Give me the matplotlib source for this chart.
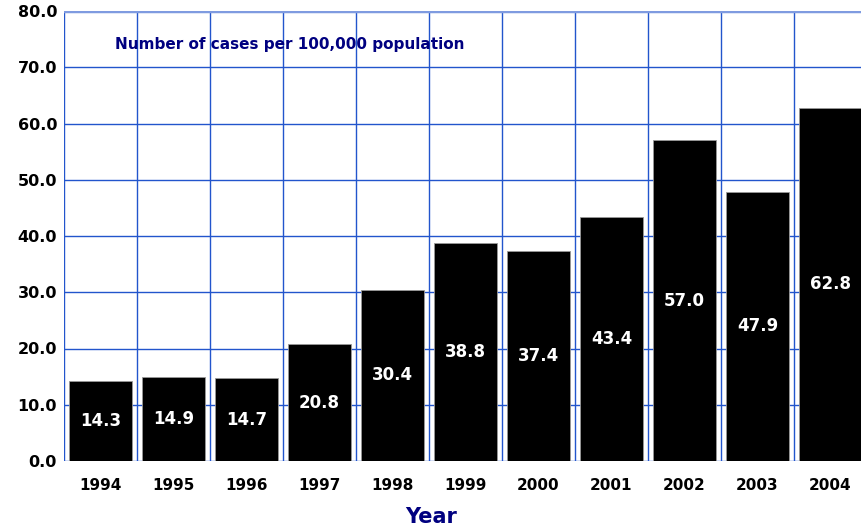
import matplotlib.pyplot as plt

years = ['1994', '1995', '1996', '1997', '1998', '1999', '2000', '2001', '2002', '2003', '2004']
rates = [14.3, 14.9, 14.7, 20.8, 30.4, 38.8, 37.4, 43.4, 57.0, 47.9, 62.8]
yticks = [0, 10, 20, 30, 40, 50, 60, 70, 80]

navy = '#000080'
grid_blue = '#2255cc'

plt.rcParams['font.family'] = ['DejaVu Sans']
plt.rcParams['font.weight'] = 'bold'

fig = plt.figure(figsize=(8.62, 5.31), dpi=100)
W, H = 862., 531.
ax = fig.add_axes([64/W, 70/H, 803/W, 450/H])

x = list(range(len(years)))
ax.bar(x, rates, width=0.85, color='black', edgecolor='#999999', linewidth=0.6, zorder=3)

for xi, v in zip(x, rates):
    ax.text(xi, v/2, '%.1f' % v, color='white', ha='center', va='center',
            fontsize=12, fontweight='bold', zorder=4)

ax.set_xlim(-0.5, len(years) - 0.5)
ax.set_ylim(0, 80)
ax.set_yticks(yticks)
ax.set_yticklabels(['%.1f' % t for t in yticks], fontsize=11.5, fontweight='bold')
ax.set_xticks(x)
ax.set_xticklabels(years, fontsize=11, fontweight='bold')
ax.tick_params(length=0, pad=12, axis='x')
ax.tick_params(length=0, pad=5, axis='y')

# grid lines on category boundaries and every 10 units
for b in range(len(years) + 1):
    ax.axvline(b - 0.5, color=grid_blue, lw=1.0, zorder=1)
for t in yticks:
    ax.axhline(t, color=grid_blue, lw=1.0, zorder=1)
ax.axhline(80, color='#7f9be0', lw=2.5, zorder=1)

for s in ax.spines.values():
    s.set_visible(False)

ax.text(0.2, 74, 'Number of cases per 100,000 population', color=navy,
        fontsize=11, fontweight='bold', va='center', ha='left', zorder=5)

fig.text(431/W, 1 - 517/H, 'Year', color=navy, fontsize=15, fontweight='bold',
         ha='center', va='center')

fig.savefig('out.png', dpi=100)
